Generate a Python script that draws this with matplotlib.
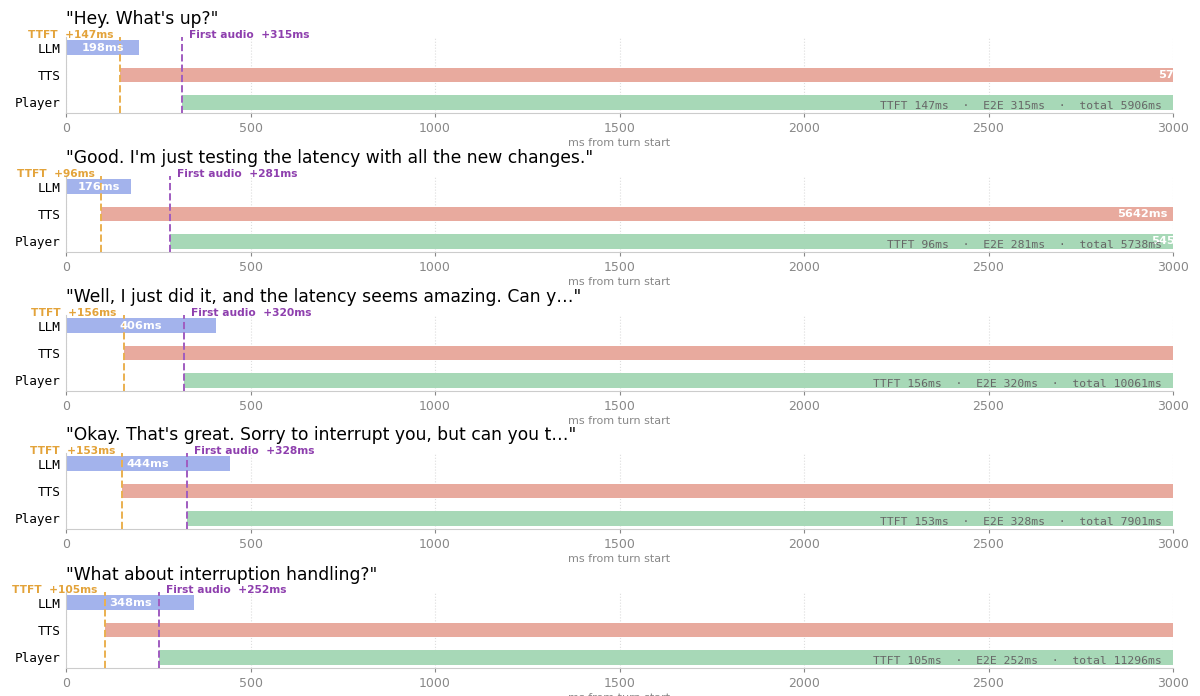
import matplotlib
matplotlib.use("Agg")
import matplotlib.pyplot as plt

# Turn data
utterances = [
    '"Hey. What\'s up?"',
    '"Good. I\'m just testing the latency with all the new changes."',
    '"Well, I just did it, and the latency seems amazing. Can y\u2026"',
    '"Okay. That\'s great. Sorry to interrupt you, but can you t\u2026"',
    '"What about interruption handling?"',
]
llm_ms = [198, 176, 406, 444, 348]
ttft_ms = [147, 96, 156, 153, 105]
first_audio_ms = [315, 281, 320, 328, 252]
total_ms = [5906, 5738, 10061, 7901, 11296]
stages = ["LLM", "TTS", "Player"]

C_LLM = "#a3b3ec"
C_TTS = "#e8aa9e"
C_PLAYER = "#a7d8b7"
C_TTFT = "#eab050"
C_AUDIO = "#a05cc0"
C_TTFT_TXT = "#e3a33a"
C_AUDIO_TXT = "#8e3fae"

fig = plt.figure(figsize=(12, 6.96), dpi=100)

left = 66 / 1200
width = (1173 - 66) / 1200
height = 76 / 696
bottoms_px = [113, 252, 391, 529, 668]

for i, text in enumerate(utterances):
    ax = fig.add_axes([left, 1 - bottoms_px[i] / 696, width, height])
    ttft = ttft_ms[i]
    fa = first_audio_ms[i]
    tot = total_ms[i]

    # stage bars: (start, duration)
    segs = [
        (0, llm_ms[i], C_LLM),
        (ttft, tot - ttft, C_TTS),
        (fa, tot - fa, C_PLAYER),
    ]
    for row, (start, dur, col) in enumerate(segs):
        ax.barh(row, dur, left=start, height=0.55, color=col, zorder=2)
        ax.text(start + dur / 2, row, f"{dur}ms", ha="center", va="center",
                color="white", fontsize=8.2, fontweight="bold", zorder=4,
                clip_on=True)

    ax.axvline(ttft, color=C_TTFT, ls="--", lw=1.4, zorder=3)
    ax.axvline(fa, color=C_AUDIO, ls="--", lw=1.4, zorder=3)

    ax.annotate(f"TTFT  +{ttft}ms", xy=(ttft, 1), xycoords=("data", "axes fraction"),
                xytext=(-5, -2), textcoords="offset points", ha="right", va="bottom",
                color=C_TTFT_TXT, fontsize=7.7, fontweight="bold", annotation_clip=False)
    ax.annotate(f"First audio  +{fa}ms", xy=(fa, 1), xycoords=("data", "axes fraction"),
                xytext=(5, -2), textcoords="offset points", ha="left", va="bottom",
                color=C_AUDIO_TXT, fontsize=7.7, fontweight="bold", annotation_clip=False)

    ax.text(0.99, 0.03, f"TTFT {ttft}ms  \u00b7  E2E {fa}ms  \u00b7  total {tot}ms",
            transform=ax.transAxes, ha="right", va="bottom", family="DejaVu Sans Mono",
            fontsize=8.2, color="#666666", zorder=5)

    ax.set_xlim(0, 3000)
    ax.set_ylim(2.4, -0.4)
    ax.set_yticks(range(3))
    ax.set_yticklabels(stages, family="DejaVu Sans Mono", fontsize=9.2)
    ax.set_xticks([0, 500, 1000, 1500, 2000, 2500, 3000])
    ax.tick_params(axis="x", colors="#888888", labelsize=9, length=3)
    ax.tick_params(axis="y", length=0, pad=4)
    ax.grid(axis="x", ls=":", color="#dddddd", lw=0.8, zorder=0)
    ax.set_axisbelow(True)
    for s in ["top", "right"]:
        ax.spines[s].set_visible(False)
    for s in ["left", "bottom"]:
        ax.spines[s].set_color("#cccccc")
    ax.set_xlabel("ms from turn start", fontsize=8, color="#888888", labelpad=2)
    ax.set_title(text, loc="left", fontsize=12.3, pad=9)

fig.savefig("out.png", dpi=100)
